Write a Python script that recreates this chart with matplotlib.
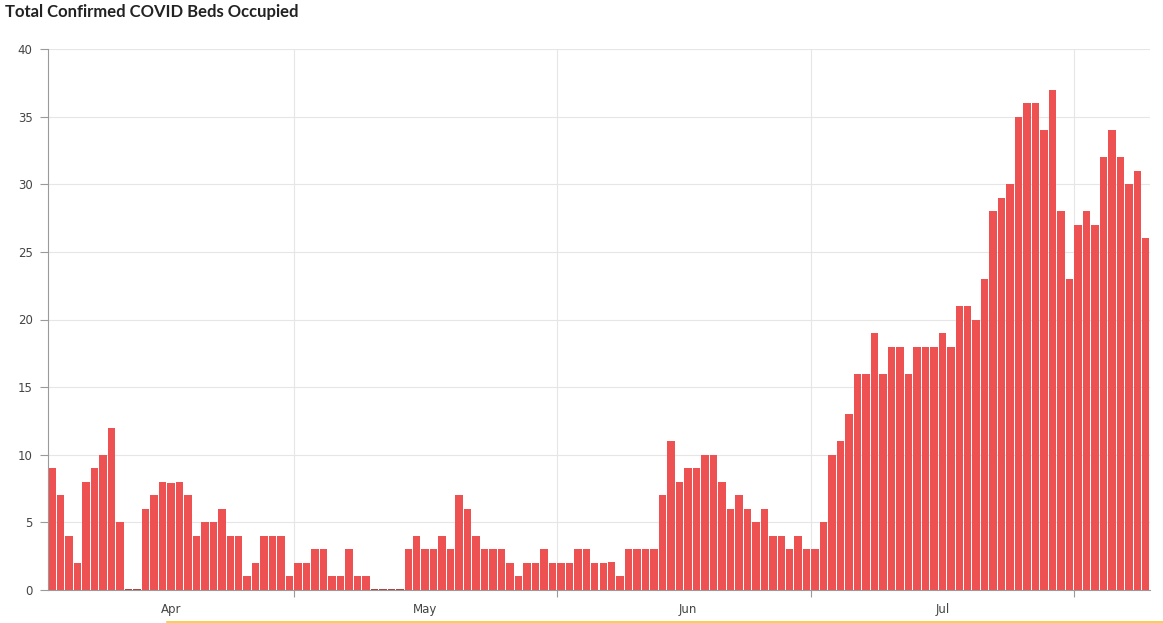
import matplotlib
matplotlib.use("Agg")
import matplotlib.pyplot as plt
import matplotlib.dates as mdates
from matplotlib.lines import Line2D
import numpy as np
import pandas as pd

# daily values, Mar 18 - Jul 25
start_date = "2020-03-18"
beds = [9, 7, 4, 2, 8, 9, 10, 12, 5, 0, 0, 6, 7, 8, 7.9, 8, 7, 4, 5, 5,
        6, 4, 4, 1, 2, 4, 4, 4, 1, 2, 2, 3, 3, 1, 1, 3, 1, 1, 0, 0,
        0, 0, 3, 4, 3, 3, 4, 3, 7, 6, 4, 3, 3, 3, 2, 1, 2, 2, 3, 2,
        2, 2, 3, 3, 2, 2, 2.1, 1, 3, 3, 3, 3, 7, 11, 8, 9, 9, 10, 10, 8,
        6, 7, 6, 5, 6, 4, 4, 3, 4, 3, 3, 5, 10, 11, 13, 16, 16, 19, 16, 18,
        18, 16, 18, 18, 18, 19, 18, 21, 21, 20, 23, 28, 29, 30, 35, 36, 36, 34, 37, 28,
        23, 27, 28, 27, 32, 34, 32, 30, 31, 26]
month_starts = ["2020-04-01", "2020-05-01", "2020-06-01", "2020-07-01"]
grid_dates = ["2020-04-15 12:00", "2020-05-16 12:00", "2020-06-15 12:00", "2020-07-16 12:00"]
y_ticks = [0, 5, 10, 15, 20, 25, 30, 35, 40]

dates = pd.date_range(start_date, periods=len(beds))
x = mdates.date2num(dates)

bar_color = "#ee5152"
grid_color = "#e6e6e6"
axis_color = "#9a9a9a"
text_color = "#444444"

fig = plt.figure(figsize=(11.63, 6.23), dpi=100)
ax = fig.add_axes([48 / 1163, 33 / 623, 1102 / 1163, 541 / 623])

ax.bar(x, beds, width=0.88, color=bar_color, zorder=3)
# zero days show as a thin line on the baseline
zeros = np.array(beds) == 0
ax.bar(x[zeros], [0.04] * zeros.sum(), width=0.88, color="#b04040", zorder=3)

ax.set_xlim(x[0] - 0.5, x[-1] + 0.5)
ax.set_ylim(0, 40)
ax.set_yticks(y_ticks)

ax.set_xticks(mdates.date2num(pd.to_datetime(grid_dates)))
ax.set_xticklabels([])
ax.set_xticks(mdates.date2num(pd.to_datetime(month_starts)), minor=True)
ax.set_xticklabels(pd.to_datetime(month_starts).strftime("%b"), minor=True)

ax.grid(True, which="major", color=grid_color, linewidth=0.8, zorder=0)
ax.tick_params(axis="x", which="major", length=5, color=axis_color, width=0.8)
ax.tick_params(axis="x", which="minor", length=0, pad=9, labelsize=8.5, labelcolor=text_color)
ax.tick_params(axis="y", length=6, color=axis_color, width=0.8, pad=5,
               labelsize=8.5, labelcolor=text_color)

for side in ["top", "right"]:
    ax.spines[side].set_visible(False)
for side in ["left", "bottom"]:
    ax.spines[side].set_color(axis_color)
    ax.spines[side].set_linewidth(0.8)
ax.spines["bottom"].set_zorder(4)

fig.text(5 / 1163, 1 - 12 / 623, "Total Confirmed COVID Beds Occupied",
         fontsize=12, fontweight="bold", family="Lato", color="#222222",
         ha="left", va="center")

# yellow strip along the bottom of the screenshot
fig.add_artist(Line2D([167 / 1163, 1], [1.5 / 623, 1.5 / 623], color="#f7c531", linewidth=1.2))

fig.savefig("out.png", dpi=100)
